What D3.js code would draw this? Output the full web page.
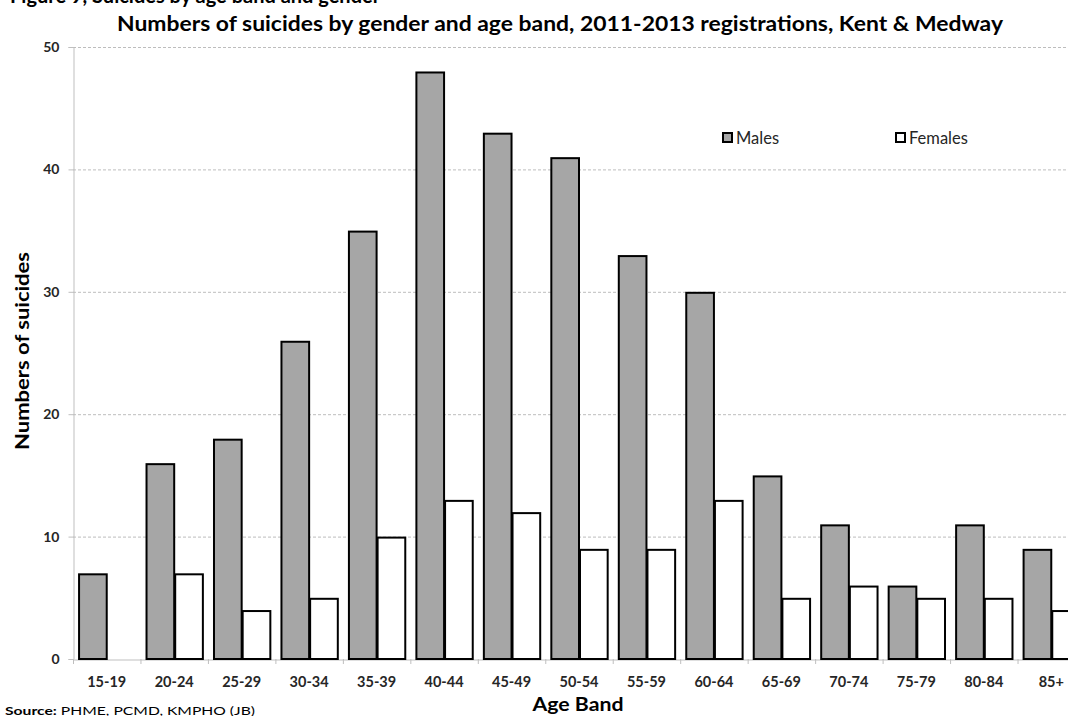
<!DOCTYPE html>
<html><head><meta charset="utf-8">
<script src="https://cdn.jsdelivr.net/npm/d3@7"></script>
<style>body{margin:0;background:#fff;overflow:hidden}svg{display:block}text{font-family:Lato,"Open Sans",sans-serif}</style>
</head><body><svg id="c" width="1068" height="716"></svg>
<script>
const categories = ["15-19","20-24","25-29","30-34","35-39","40-44","45-49","50-54","55-59","60-64","65-69","70-74","75-79","80-84","85+"];
const males   = [7,16,18,26,35,48,43,41,33,30,15,11,6,11,9];
const females = [0,7,4,5,10,13,12,9,9,13,5,6,5,5,4];
const yTicks = [0,10,20,30,40,50];
const seriesNames = ["Males","Females"];
const seriesColors = ["#a6a6a6","#ffffff"];

(function(){
const svg = d3.select("#c");
const pL = 73, pR = 1085, pT = 47, pB = 659;
const x = d3.scaleBand().domain(categories).range([pL,pR]).paddingInner(0.15).paddingOuter(0.075);
const x0 = d3.scaleBand().domain(categories).range([pL,pR]);
const xs = d3.scaleBand().domain(seriesNames).range([0,x.bandwidth()]);
const y = d3.scaleLinear().domain([0,50]).range([pB,pT]);

// figure caption, cut off by the top edge as in the original
svg.append("text").attr("x",10).attr("y",3).attr("font-size",20).attr("font-weight","bold").attr("fill","#000")
  .text("Figure 9, Suicides by age band and gender");

// gridlines
svg.append("g").selectAll("line").data(yTicks.filter(d=>d>0)).join("line")
  .attr("x1",pL).attr("x2",1068).attr("y1",d=>y(d)+0.5).attr("y2",d=>y(d)+0.5)
  .attr("stroke","#bdbdbd").attr("stroke-dasharray","3,2").attr("stroke-width",1);

// y axis
const ya = svg.append("g").attr("transform",`translate(${pL+0.5},0)`)
  .call(d3.axisLeft(y).tickValues(yTicks).tickSize(5).tickPadding(9));
ya.select(".domain").attr("stroke","#bfbfbf");
ya.selectAll(".tick line").attr("stroke","#bfbfbf");
ya.selectAll(".tick text").attr("font-size",14).attr("font-weight","bold").attr("fill","#262626").attr("font-family","Lato,sans-serif");

// x axis
const xa = svg.append("g").attr("transform",`translate(0,${pB+0.5})`)
  .call(d3.axisBottom(x0).tickSize(0).tickPadding(17));
xa.select(".domain").attr("stroke","#bfbfbf");
xa.selectAll(".tick text").attr("font-size",14.5).attr("font-weight","bold").attr("fill","#262626").attr("font-family","Lato,sans-serif");
svg.append("g").selectAll("line").data(categories.concat(["end"])).join("line")
  .attr("x1",(d,i)=>pL+i*x0.step()+0.5).attr("x2",(d,i)=>pL+i*x0.step()+0.5)
  .attr("y1",pB).attr("y2",pB+5).attr("stroke","#bfbfbf");

// bars
const g = svg.append("g");
[males,females].forEach((vals,si)=>{
  g.selectAll(".s"+si).data(vals.map((v,i)=>({v,c:categories[i]})).filter(d=>d.v>0)).join("rect")
    .attr("class","s"+si)
    .attr("x",d=>x(d.c)+xs(seriesNames[si])+1)
    .attr("y",d=>y(d.v)+1)
    .attr("width",xs.bandwidth()-1)
    .attr("height",d=>y(0)-y(d.v)-1)
    .attr("fill",seriesColors[si]).attr("stroke","#000").attr("stroke-width",2);
});

// title
svg.append("text").attr("x",560).attr("y",31).attr("text-anchor","middle").attr("font-size",20)
  .attr("font-weight","bold").attr("fill","#000")
  .attr("textLength",886).attr("lengthAdjust","spacingAndGlyphs")
  .text("Numbers of suicides by gender and age band, 2011-2013 registrations, Kent & Medway");

// axis titles
svg.append("text").attr("transform","translate(29,351) rotate(-90)").attr("text-anchor","middle")
  .attr("font-size",19).attr("font-weight","bold").attr("fill","#000")
  .attr("textLength",198).attr("lengthAdjust","spacingAndGlyphs").text("Numbers of suicides");
svg.append("text").attr("x",578).attr("y",711).attr("text-anchor","middle")
  .attr("font-size",19).attr("font-weight","bold").attr("fill","#000")
  .attr("textLength",91).attr("lengthAdjust","spacingAndGlyphs").text("Age Band");

// source
const src = svg.append("text").attr("x",5).attr("y",715).attr("font-size",12).attr("fill","#000")
  .attr("textLength",250).attr("lengthAdjust","spacingAndGlyphs");
src.append("tspan").attr("font-weight","bold").text("Source:");
src.append("tspan").text(" PHME, PCMD, KMPHO (JB)");

// legend
const lg = svg.append("g");
const lx = [723,896];
seriesNames.forEach((n,i)=>{
  lg.append("rect").attr("x",lx[i]).attr("y",133).attr("width",9).attr("height",9)
    .attr("fill",seriesColors[i]).attr("stroke","#000").attr("stroke-width",2);
  lg.append("text").attr("x",lx[i]+13).attr("y",143.5).attr("font-size",16.5).attr("fill","#262626").text(n);
});
})();
</script></body></html>
